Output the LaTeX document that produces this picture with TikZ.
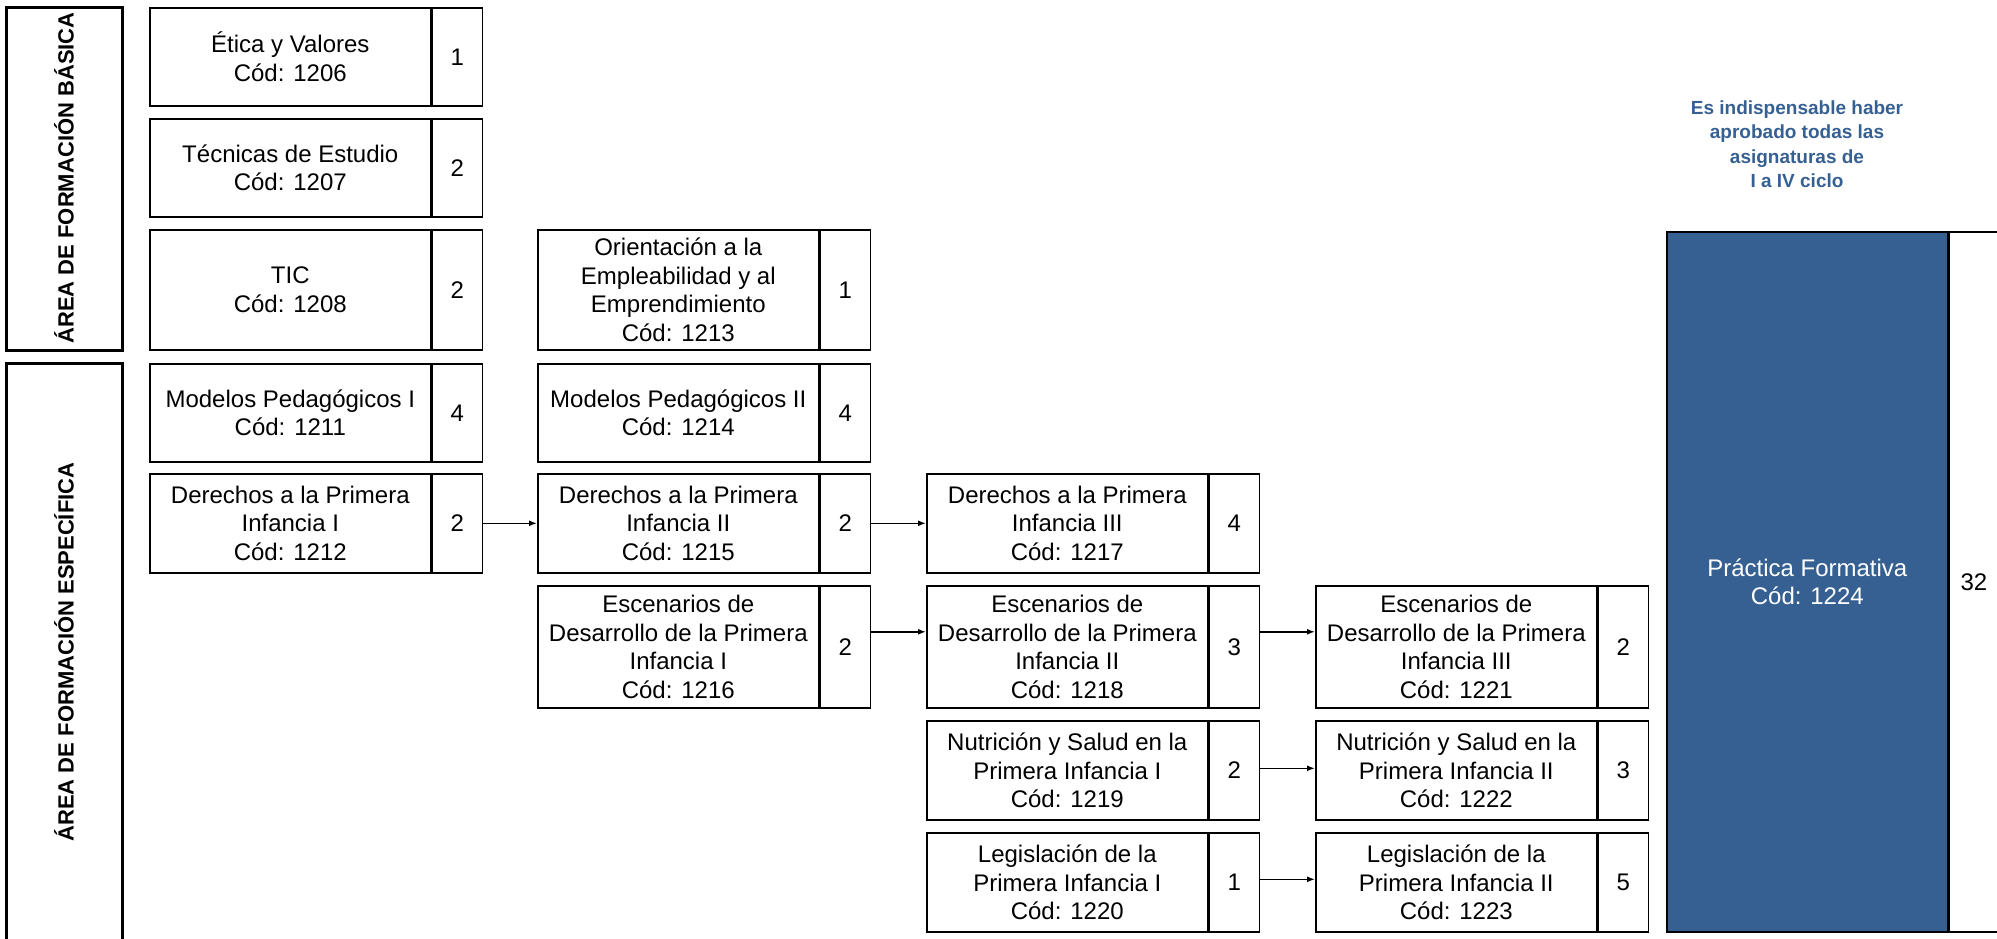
\documentclass[tikz,border=0pt]{standalone}
\usepackage{fontspec}
\setmainfont{Liberation Sans}
\usetikzlibrary{calc,arrows.meta}
\definecolor{pblue}{RGB}{54,96,146}
\newcommand\course[6]{%
  \node[txt, minimum height=#4pt] (#1) at (#2,#3) {#5};
  \node[num, minimum height=#4pt] (#1n) at (#1.north east) {#6};
}
\begin{document}
\begin{tikzpicture}[x=1pt,y=-1pt,
  txt/.style={draw, line width=1.6pt, minimum width=281pt, anchor=north west, inner sep=0pt, align=center, font=\fontsize{24}{28.5}\selectfont},
  num/.style={draw, line width=1.6pt, minimum width=50pt, anchor=north west, inner sep=0pt, font=\fontsize{24}{28.5}\selectfont},
  arr/.style={-{Latex[length=8pt,width=6pt]}, line width=1.5pt},
  area/.style={line width=3pt},
  arealbl/.style={rotate=90, inner sep=0pt, font=\fontsize{22}{26}\selectfont\bfseries}
]
\useasboundingbox (0,0) rectangle (1997,938);

% area boxes
\draw[area] (6,7) rectangle (122,350);
\draw[area] (6,945) -- (6,363) -- (122,363) -- (122,945);
\node[arealbl] (lblb) at (64,178) {ÁREA DE FORMACIÓN BÁSICA};
\node[arealbl] (lble) at (64,652) {ÁREA DE FORMACIÓN ESPECÍFICA};

% column 1
\course{etica}{149}{7}{98}{Ética y Valores\\Cód: 1206}{1}
\course{tecn}{149}{118}{98}{Técnicas de Estudio\\Cód: 1207}{2}
\course{tic}{149}{229}{120}{TIC\\Cód: 1208}{2}
\course{modA}{149}{363}{98}{Modelos Pedagógicos I\\Cód: 1211}{4}
\course{derA}{149}{473}{99}{Derechos a la Primera\\Infancia I\\Cód: 1212}{2}

% column 2
\course{orient}{537}{229}{120}{Orientación a la\\Empleabilidad y al\\Emprendimiento\\Cód: 1213}{1}
\course{modB}{537}{363}{98}{Modelos Pedagógicos II\\Cód: 1214}{4}
\course{derB}{537}{473}{99}{Derechos a la Primera\\Infancia II\\Cód: 1215}{2}
\course{escA}{537}{585}{122}{Escenarios de\\Desarrollo de la Primera\\Infancia I\\Cód: 1216}{2}

% column 3
\course{derC}{926}{473}{99}{Derechos a la Primera\\Infancia III\\Cód: 1217}{4}
\course{escB}{926}{585}{122}{Escenarios de\\Desarrollo de la Primera\\Infancia II\\Cód: 1218}{3}
\course{nutA}{926}{720}{99}{Nutrición y Salud en la\\Primera Infancia I\\Cód: 1219}{2}
\course{legA}{926}{832}{99}{Legislación de la\\Primera Infancia I\\Cód: 1220}{1}

% column 4
\course{escC}{1315}{585}{122}{Escenarios de\\Desarrollo de la Primera\\Infancia III\\Cód: 1221}{2}
\course{nutB}{1315}{720}{99}{Nutrición y Salud en la\\Primera Infancia II\\Cód: 1222}{3}
\course{legB}{1315}{832}{99}{Legislación de la\\Primera Infancia II\\Cód: 1223}{5}

% practica
\node[txt, fill=pblue, text=white, minimum height=700pt] (prac) at (1666,231) {Práctica Formativa\\Cód: 1224};
\node[num, minimum width=49pt, minimum height=700pt] (pracn) at (prac.north east) {32};

% note
\node[text=pblue, align=center, inner sep=0pt, font=\fontsize{19}{24.5}\selectfont\bfseries] (note) at (1797,144) {Es indispensable haber\\aprobado todas las\\asignaturas de\\I a IV ciclo};

% arrows
\draw[arr] (derAn) -- (derB);
\draw[arr] (derBn) -- (derC);
\draw[arr] ([yshift=15pt]escAn.east) -- ([yshift=15pt]escB.west);
\draw[arr] ([yshift=15pt]escBn.east) -- ([yshift=15pt]escC.west);
\draw[arr] ([yshift=2pt]nutAn.east) -- ([yshift=2pt]nutB.west);
\draw[arr] ([yshift=3pt]legAn.east) -- ([yshift=3pt]legB.west);
\end{tikzpicture}
\end{document}
